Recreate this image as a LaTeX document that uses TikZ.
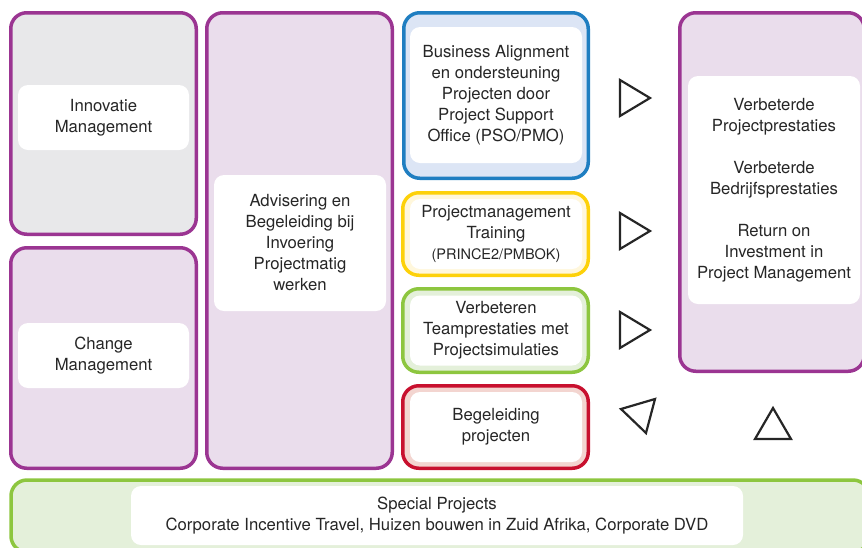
\documentclass[tikz,border=0pt]{standalone}
\usepackage{fontspec}
\setmainfont{TeX Gyre Heros}
\definecolor{paars}{HTML}{9B3592}
\definecolor{paarsbg}{HTML}{EADDEC}
\definecolor{grijsbg}{HTML}{E8E8EA}
\definecolor{blauw}{HTML}{1F7EC1}
\definecolor{blauwbg}{HTML}{DCE5F5}
\definecolor{geel}{HTML}{FDD10A}
\definecolor{geelbg}{HTML}{FFF7DC}
\definecolor{groen}{HTML}{8DC63F}
\definecolor{groenbg}{HTML}{E4F0DA}
\definecolor{rood}{HTML}{C8102E}
\definecolor{roodbg}{HTML}{F3D5D0}
\definecolor{tekst}{HTML}{262626}
\tikzset{
  frame/.style={draw=#1, line width=3.5, rounded corners=16},
  label box/.style={fill=white, rounded corners=10, align=center, text=tekst,
    font=\fontsize{16.7}{21}\selectfont, inner sep=0pt},
  pijl/.style={draw=black!85, line width=2.2, fill=white, line join=miter}
}

\begin{document}
\begin{tikzpicture}[x=1pt,y=-1pt]
\useasboundingbox (0,0) rectangle (862,547);
\clip (0,0) rectangle (862,547);
% linker kolom
\node at(103.5,123.5)[frame=paars, fill=grijsbg, minimum width=185.5, minimum height=221.5](innovatieframe){};
\node at(103.5,358)[frame=paars, fill=paarsbg, minimum width=185.5, minimum height=220.5](changeframe){};
\node at(299.5,240.5)[frame=paars, fill=paarsbg, minimum width=185.5, minimum height=455.5](adviesframe){};
\node at(103.5,117.5)[label box, minimum width=171, minimum height=65](innovatie){Innovatie\\Management};
\node at(103.5,355.5)[label box, minimum width=171, minimum height=65](change){Change\\Management};
\node at(300,243)[label box, minimum width=172, minimum height=136](advies){Advisering en\\Begeleiding bij\\Invoering\\Projectmatig\\werken};
% middelste kolom
\node at(496,95.5)[frame=blauw, fill=blauwbg, minimum width=184.5, minimum height=165.5](psoframe){};
\node at(495.5,234)[frame=geel, fill=geelbg, minimum width=185.5, minimum height=82.5](trainingframe){};
\node at(495.5,330.5)[frame=groen, fill=groenbg, minimum width=185.5, minimum height=83.5](teamframe){};
\node at(495.5,427)[frame=rood, fill=roodbg, minimum width=185.5, minimum height=82.5](begeleidingframe){};
\node at(496,95)[label box, minimum width=172, minimum height=136](pso){Business Alignment\\en ondersteuning\\Projecten door\\Project Support\\Office (PSO/PMO)};
\node at(496,234)[label box, minimum width=172, minimum height=70](training){Projectmanagement\\Training\\{\fontsize{14.5}{21}\selectfont(PRINCE2/PMBOK)}};
\node at(496,330.5)[label box, minimum width=172, minimum height=70](team){Verbeteren\\Teamprestaties met\\Projectsimulaties};
\node at(496,427)[label box, minimum width=172, minimum height=70](begeleiding){Begeleiding\\projecten};
% rechter kolom
\node at(772,192)[frame=paars, fill=paarsbg, minimum width=184.5, minimum height=358.5](resultaatframe){};
\node at(774,190)[label box, minimum width=172, minimum height=228](resultaat){Verbeterde\\Projectprestaties\\[21pt]Verbeterde\\Bedrijfsprestaties\\[21pt]Return on\\Investment in\\Project Management};
% onderbalk
\node at(440,516)[frame=groen, fill=groenbg, minimum width=858, minimum height=72](specialframe){};
\node at(437,515.5)[label box, minimum width=612, minimum height=59](special){Special Projects\\Corporate Incentive Travel, Huizen bouwen in Zuid Afrika, Corporate DVD};
% driehoeken
\draw[pijl](620,80) -- (650,98) -- (620,116) -- cycle;
\draw[pijl](620,213) -- (650,231) -- (620,249) -- cycle;
\draw[pijl](620,312) -- (650,330) -- (620,348) -- cycle;
\draw[pijl](621,409) -- (655,399) -- (646,433) -- cycle;
\draw[pijl](755,439) -- (773,408) -- (791,439) -- cycle;
\end{tikzpicture}
\end{document}
